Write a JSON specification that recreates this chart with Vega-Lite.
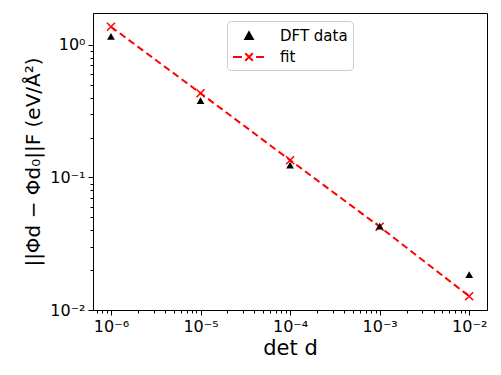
{
  "$schema": "https://vega.github.io/schema/vega-lite/v6.json",
  "autosize": "none",
  "width": 394,
  "height": 297,
  "padding": {"left": 93, "top": 13, "right": 14, "bottom": 65},
  "background": "white",
  "data": {
    "values": [
      {"d": 0.000001, "DFT data": 1.16, "fit": 1.37},
      {"d": 0.00001, "DFT data": 0.38, "fit": 0.432},
      {"d": 0.0001, "DFT data": 0.124, "fit": 0.135},
      {"d": 0.001, "DFT data": 0.043, "fit": 0.0425},
      {"d": 0.01, "DFT data": 0.0185, "fit": 0.0127}
    ]
  },
  "layer": [
    {
      "transform": [{"fold": ["DFT data", "fit"], "as": ["series", "val"]}],
      "mark": {"type": "point", "opacity": 0},
      "encoding": {
        "x": {"field": "d", "type": "quantitative", "scale": {"type": "log", "domain": [6.3e-7, 0.0158], "nice": false},
          "axis": {"values": [7e-7, 8e-7, 9e-7, 0.000001, 2e-6, 3e-6, 4e-6, 5e-6, 6e-6, 7e-6, 8e-6, 9e-6, 0.00001, 2e-5, 3e-5, 4e-5, 5e-5, 6e-5, 7e-5, 8e-5, 9e-5, 0.0001, 2e-4, 3e-4, 4e-4, 5e-4, 6e-4, 7e-4, 8e-4, 9e-4, 0.001, 2e-3, 3e-3, 4e-3, 5e-3, 6e-3, 7e-3, 8e-3, 9e-3, 0.01],
            "tickCount": 100,
            "tickSize": {"condition": {"test": "abs(log(datum.value)/LN10 - round(log(datum.value)/LN10)) < 0.01", "value": 5}, "value": 3},
            "tickWidth": 1,
            "labelFontSize": 16, "labelPadding": 3, "labelOverlap": false, "labelFlush": false,
            "labelExpr": "abs(log(datum.value)/LN10 - round(log(datum.value)/LN10)) < 0.01 ? '10' + (datum.value < 0.5 ? '⁻' : '') + ['⁰','¹','²','³','⁴','⁵','⁶','⁷'][abs(round(log(datum.value)/LN10))] : ''",
            "title": "det d", "titleFontSize": 21, "titlePadding": 3}},
        "y": {"field": "val", "type": "quantitative", "scale": {"type": "log", "domain": [0.01, 1.74], "nice": false},
          "axis": {"values": [0.01, 0.02, 0.03, 0.04, 0.05, 0.06, 0.07, 0.08, 0.09, 0.1, 0.2, 0.3, 0.4, 0.5, 0.6, 0.7, 0.8, 0.9, 1],
            "tickCount": 100,
            "tickSize": {"condition": {"test": "abs(log(datum.value)/LN10 - round(log(datum.value)/LN10)) < 0.01", "value": 5}, "value": 3},
            "tickWidth": 1,
            "labelFontSize": 16, "labelPadding": 3, "labelOverlap": false, "labelFlush": false,
            "labelExpr": "abs(log(datum.value)/LN10 - round(log(datum.value)/LN10)) < 0.01 ? '10' + (datum.value < 0.5 ? '⁻' : '') + ['⁰','¹','²','³','⁴','⁵','⁶','⁷'][abs(round(log(datum.value)/LN10))] : ''",
            "title": "||Φd − Φd₀||F (eV/Å²)", "titleFontSize": 20, "titlePadding": 6}},
        "shape": {"field": "series", "type": "nominal",
          "scale": {"domain": ["DFT data", "fit"], "range": ["M0.78,-0.4L1.2,0.34L0.36,0.34Z", "M-1,0H0M1.56,0H2.44M0.36,-0.42L1.2,0.42M0.36,0.42L1.2,-0.42"]},
          "legend": {"title": null}},
        "fill": {"field": "series", "type": "nominal", "scale": {"domain": ["DFT data", "fit"], "range": ["black", "red"]}, "legend": {"title": null}},
        "stroke": {"field": "series", "type": "nominal", "scale": {"domain": ["DFT data", "fit"], "range": ["black", "red"]}, "legend": {"title": null}}
      }
    },
    {
      "mark": {"type": "line", "color": "red", "strokeWidth": 2, "strokeDash": [7, 4]},
      "encoding": {
        "x": {"field": "d", "type": "quantitative"},
        "y": {"field": "fit", "type": "quantitative"}
      }
    },
    {
      "mark": {"type": "point", "shape": "M-1,-1L1,1M-1,1L1,-1", "filled": false, "color": "red", "strokeWidth": 1.5, "size": 64, "opacity": 1},
      "encoding": {
        "x": {"field": "d", "type": "quantitative"},
        "y": {"field": "fit", "type": "quantitative"}
      }
    },
    {
      "mark": {"type": "point", "shape": "triangle-up", "filled": true, "color": "black", "size": 60, "opacity": 1},
      "encoding": {
        "x": {"field": "d", "type": "quantitative"},
        "y": {"field": "DFT data", "type": "quantitative"}
      }
    }
  ],
  "config": {
    "view": {"stroke": "black", "strokeWidth": 1},
    "font": "DejaVu Sans",
    "axis": {"grid": false, "domainColor": "black", "tickColor": "black", "labelColor": "black", "titleColor": "black", "labelFont": "DejaVu Sans", "titleFont": "DejaVu Sans", "titleFontWeight": "normal"},
    "legend": {"orient": "none", "legendX": 134, "legendY": 8, "fillColor": "white", "strokeColor": "#cccccc", "cornerRadius": 4, "padding": 5, "labelFont": "DejaVu Sans", "labelFontSize": 15, "labelColor": "black", "symbolSize": 324, "symbolStrokeWidth": 2, "symbolOpacity": 1, "labelOffset": 28, "rowPadding": 3}
  }
}
